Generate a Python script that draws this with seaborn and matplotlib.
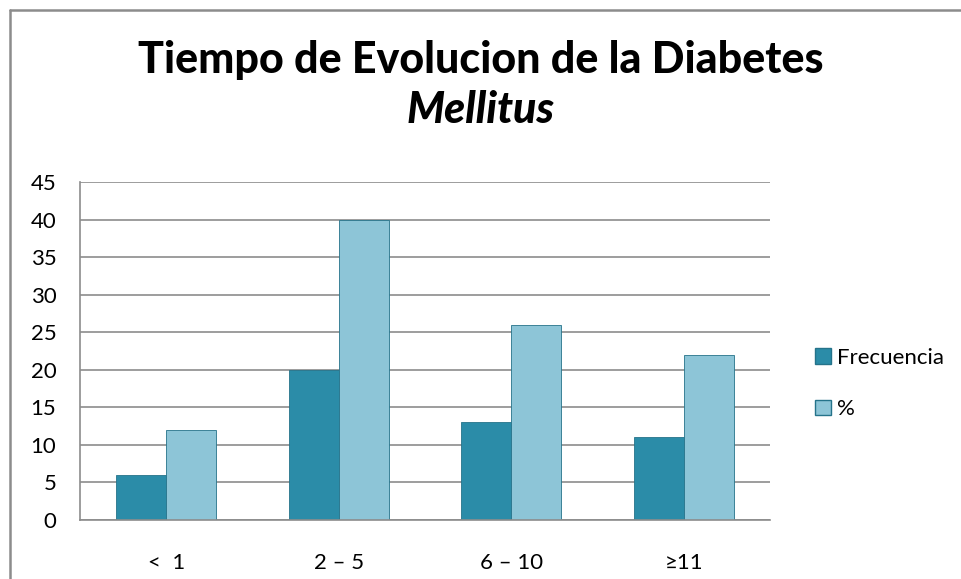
import matplotlib
matplotlib.use("Agg")
import matplotlib.pyplot as plt
import seaborn as sns
import pandas as pd
from matplotlib.lines import Line2D
from matplotlib.patches import Patch

categories = ["<  1", "2 – 5", "6 – 10", "≥11"]
frecuencia = [6, 20, 13, 11]
porcentaje = [12, 40, 26, 22]
series_names = ["Frecuencia", "%"]
yticks = [0, 5, 10, 15, 20, 25, 30, 35, 40, 45]

df = pd.DataFrame({
    "cat": categories * 2,
    "val": frecuencia + porcentaje,
    "serie": [series_names[0]] * 4 + [series_names[1]] * 4,
})

sns.set_theme(style="white")
plt.rcParams["font.family"] = ["Lato", "DejaVu Sans"]

colors = ["#2b8ca8", "#8dc5d7"]
edge = "#25738a"

fig = plt.figure(figsize=(9.61, 5.79), dpi=100)
ax = fig.add_axes([80 / 961, 59 / 579, 690 / 961, 338 / 579])

sns.barplot(data=df, x="cat", y="val", hue="serie", palette=colors,
            width=0.58, ax=ax, legend=False, saturation=1,
            edgecolor=edge, linewidth=0.6)

ax.set_ylim(0, 45)
ax.set_yticks(yticks)
ax.set_xlabel("")
ax.set_ylabel("")
ax.yaxis.grid(True, color="#8c8c8c", linewidth=1.2)
ax.set_axisbelow(True)
for s in ["top", "right"]:
    ax.spines[s].set_visible(False)
for s in ["left", "bottom"]:
    ax.spines[s].set_color("#8c8c8c")
    ax.spines[s].set_linewidth(1.2)
ax.tick_params(axis="y", length=5, color="#8c8c8c", labelsize=16, pad=12)
ax.tick_params(axis="x", length=0, labelsize=16, pad=24)
for lab in ax.get_xticklabels() + ax.get_yticklabels():
    lab.set_color("black")

handles = [Patch(facecolor=colors[0], edgecolor=edge),
           Patch(facecolor=colors[1], edgecolor=edge)]
fig.legend(handles, series_names, loc="upper left",
           bbox_to_anchor=(795 / 961, 1 - 328 / 579), frameon=False,
           fontsize=16, handlelength=0.7, handleheight=0.7,
           handletextpad=0.3, labelspacing=1.4, labelcolor="black")

fig.text(0.5, 1 - 60 / 579, "Tiempo de Evolucion de la Diabetes",
         ha="center", va="center", fontsize=31, fontweight="black",
         color="black")
fig.text(0.5, 1 - 110 / 579, "Mellitus",
         ha="center", va="center", fontsize=31, fontweight="black",
         fontstyle="italic", color="black")

# outer frame (top and left visible)
fig.add_artist(Line2D([10 / 961, 10 / 961], [0, 1 - 10 / 579],
                      transform=fig.transFigure, color="#8c8c8c", lw=1.8))
fig.add_artist(Line2D([10 / 961, 1], [1 - 10 / 579, 1 - 10 / 579],
                      transform=fig.transFigure, color="#8c8c8c", lw=1.8))

fig.savefig("out.png", dpi=100)
